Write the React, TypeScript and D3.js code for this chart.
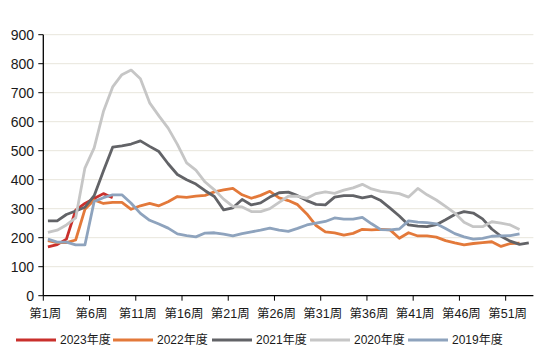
import React from "react";
import * as d3 from "d3";

const seriesNames = ["2023年度", "2022年度", "2021年度", "2020年度", "2019年度"];
const seriesColors = ["#c9302c", "#e3793a", "#626367", "#c6c6c6", "#8ea3bd"];

const w2023 = [168, 176, 195, 295, 318, 335, 352, 338];
const w2022 = [190, 183, 183, 192, 298, 330, 318, 322, 322, 298, 310, 318, 310, 324, 342, 339, 343, 346, 358, 365, 370, 348, 336, 346, 360, 337, 328, 314, 282, 242, 220, 217, 209, 215, 229, 227, 229, 227, 198, 217, 206, 206, 202, 190, 182, 175, 180, 183, 186, 170, 180, 181];
const w2021 = [258, 258, 280, 292, 305, 345, 430, 512, 517, 523, 534, 515, 497, 455, 418, 400, 385, 362, 342, 296, 303, 332, 313, 320, 340, 355, 357, 345, 328, 315, 313, 340, 345, 345, 337, 343, 328, 302, 275, 244, 240, 238, 245, 262, 280, 290, 285, 265, 230, 205, 188, 177, 182];
const w2020 = [218, 226, 244, 268, 440, 510, 635, 720, 762, 778, 748, 665, 620, 578, 522, 458, 433, 392, 365, 333, 308, 306, 290, 290, 300, 322, 343, 343, 336, 352, 358, 353, 364, 372, 384, 368, 360, 356, 352, 340, 370, 348, 330, 308, 285, 253, 238, 238, 255, 250, 244, 228];
const w2019 = [195, 185, 185, 175, 175, 325, 338, 348, 348, 319, 284, 260, 247, 233, 213, 207, 203, 216, 217, 212, 206, 214, 220, 226, 233, 226, 222, 232, 244, 250, 256, 268, 264, 264, 270, 248, 228, 227, 230, 258, 254, 252, 248, 232, 214, 203, 195, 198, 205, 206, 207, 213];

const seriesData = [w2023, w2022, w2021, w2020, w2019];
const yTicks = [0, 100, 200, 300, 400, 500, 600, 700, 800, 900];
const xTickWeeks = [1, 6, 11, 16, 21, 26, 31, 36, 41, 46, 51];
const weekCount = 53;

const FONT = "'Liberation Sans', Arial, 'Noto Sans CJK SC', sans-serif";

export default function App() {
  const left = 43.3;
  const right = 533.4;
  const top = 34.7;
  const bottom = 295.7;

  const x = d3.scaleLinear().domain([0, weekCount]).range([left, right]);
  const y = d3.scaleLinear().domain([0, 900]).range([bottom, top]);

  const line = d3
    .line<number>()
    .x((_, i) => x(i + 0.5))
    .y((d) => y(d));

  const legendX = [16, 113, 212, 310, 408];
  const legendY = 340;

  return (
    <svg
      width={550}
      height={360}
      style={{ position: "absolute", left: 0, top: 0, background: "#fff" }}
      fontFamily={FONT}
    >
      <rect width={550} height={360} fill="#fff" />
      {yTicks.map((t) =>
        t === 0 ? null : (
          <line key={"g" + t} x1={left} x2={right} y1={y(t)} y2={y(t)} stroke="#e8e6dc" strokeWidth={1} />
        )
      )}
      {yTicks.map((t) => (
        <g key={"yt" + t}>
          <line x1={left - 5} x2={left} y1={y(t)} y2={y(t)} stroke="#000" strokeWidth={1} />
          <text x={34} y={y(t)} dy="0.35em" textAnchor="end" fontSize={14} fill="#1a1a1a">
            {t}
          </text>
        </g>
      ))}
      {xTickWeeks.map((w) => (
        <g key={"xt" + w}>
          <line x1={x(w - 1)} x2={x(w - 1)} y1={bottom} y2={bottom + 5} stroke="#000" strokeWidth={1} />
          <text x={x(w - 1) + 2} y={bottom + 18} dy="0.35em" textAnchor="middle" fontSize={12.5} fill="#1a1a1a">
            {"第" + w + "周"}
          </text>
        </g>
      ))}
      {seriesData.map((d, i) => (
        <path
          key={"s" + i}
          d={line(d) || ""}
          fill="none"
          stroke={seriesColors[i]}
          strokeWidth={2.8}
          strokeLinejoin="round"
        />
      ))}
      <line x1={left} x2={left} y1={top} y2={bottom} stroke="#000" strokeWidth={1.3} />
      <line x1={left} x2={right} y1={bottom} y2={bottom} stroke="#000" strokeWidth={1.3} />
      {seriesNames.map((n, i) => (
        <g key={"l" + i}>
          <line x1={legendX[i]} x2={legendX[i] + 40} y1={legendY} y2={legendY} stroke={seriesColors[i]} strokeWidth={3} />
          <text x={legendX[i] + 44} y={legendY} dy="0.35em" fontSize={12} fill="#1a1a1a">
            {n}
          </text>
        </g>
      ))}
    </svg>
  );
}
